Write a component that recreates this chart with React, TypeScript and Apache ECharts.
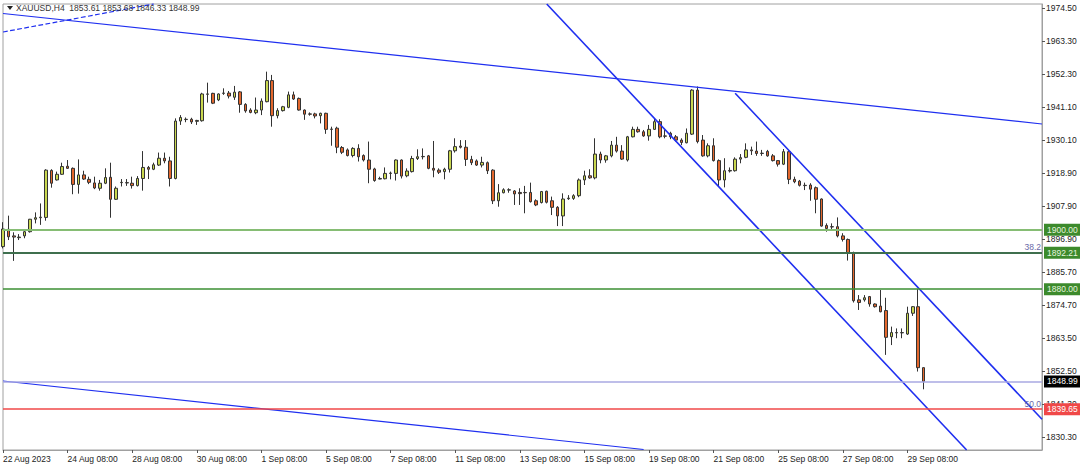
import React, { useEffect, useRef } from "react";
import * as echarts from "echarts";

// ---- data ----
const symbolTitle = "XAUUSD,H4";

// H4 candles: [open, close, low, high]
const ohlc: number[][] = [
  [1894.3, 1900.2, 1893.7, 1902.5], [1900.1, 1897.6, 1896.5, 1904.7], [1897.9, 1897.5, 1889.5, 1899.1],
  [1897.3, 1897.5, 1896.5, 1898.5], [1897.9, 1899.3, 1897.1, 1900.2], [1899.3, 1903.5, 1899.0, 1903.6],
  [1903.5, 1904.0, 1902.1, 1905.8], [1904.0, 1904.2, 1901.6, 1908.8], [1904.1, 1920.0, 1903.0, 1920.3],
  [1919.9, 1915.6, 1914.1, 1920.3], [1916.7, 1918.6, 1916.5, 1919.5], [1918.6, 1921.2, 1918.4, 1922.5],
  [1921.3, 1920.6, 1920.4, 1923.4], [1920.6, 1915.2, 1911.9, 1920.9], [1915.2, 1918.4, 1912.1, 1923.6],
  [1918.4, 1917.0, 1916.7, 1919.8], [1916.9, 1915.9, 1915.3, 1917.8], [1915.7, 1914.0, 1913.6, 1917.8],
  [1913.9, 1915.6, 1913.1, 1916.7], [1915.6, 1917.5, 1915.3, 1920.6], [1917.6, 1910.2, 1904.0, 1922.5],
  [1910.2, 1913.9, 1910.0, 1914.5], [1915.8, 1915.9, 1914.5, 1917.0], [1915.8, 1915.7, 1914.7, 1917.0],
  [1915.6, 1914.8, 1913.8, 1917.8], [1914.8, 1917.2, 1914.5, 1918.0], [1917.2, 1920.9, 1913.1, 1926.4],
  [1920.9, 1920.3, 1917.0, 1921.4], [1920.3, 1921.8, 1920.0, 1922.5], [1921.7, 1924.0, 1921.4, 1925.9],
  [1924.0, 1923.1, 1922.3, 1925.9], [1923.1, 1917.2, 1914.5, 1924.5], [1917.2, 1936.5, 1916.9, 1937.4],
  [1936.5, 1937.7, 1935.2, 1938.5], [1937.1, 1937.0, 1936.1, 1937.7], [1937.1, 1936.2, 1935.5, 1937.6],
  [1936.4, 1936.7, 1935.2, 1936.9], [1936.6, 1945.6, 1936.3, 1946.0], [1945.5, 1945.6, 1942.7, 1949.4],
  [1945.8, 1942.5, 1942.2, 1946.0], [1943.6, 1945.6, 1943.2, 1945.8], [1945.8, 1945.9, 1945.3, 1947.5],
  [1945.9, 1944.9, 1944.1, 1946.6], [1944.5, 1946.2, 1943.6, 1948.3], [1946.3, 1942.1, 1939.3, 1946.6],
  [1942.1, 1939.9, 1939.3, 1942.5], [1940.2, 1939.4, 1939.1, 1940.8], [1939.3, 1940.2, 1938.8, 1944.4],
  [1940.2, 1943.2, 1938.5, 1944.1], [1943.0, 1950.1, 1942.8, 1953.1], [1950.1, 1938.3, 1934.6, 1952.0],
  [1938.3, 1940.0, 1937.4, 1940.8], [1940.0, 1941.3, 1939.7, 1941.6], [1941.1, 1945.3, 1940.8, 1946.4],
  [1945.3, 1943.9, 1943.6, 1946.4], [1944.1, 1940.2, 1940.0, 1944.4], [1940.2, 1938.8, 1936.9, 1940.4],
  [1938.9, 1938.8, 1938.3, 1939.4], [1938.9, 1938.2, 1937.4, 1939.3], [1938.3, 1939.1, 1935.7, 1939.3],
  [1939.1, 1933.7, 1932.2, 1939.3], [1933.8, 1933.7, 1928.2, 1934.6], [1934.1, 1927.7, 1925.7, 1934.6],
  [1927.6, 1926.0, 1925.4, 1928.1], [1926.8, 1924.9, 1924.6, 1927.3], [1924.9, 1927.3, 1924.3, 1927.7],
  [1927.3, 1924.5, 1922.9, 1928.7], [1924.9, 1923.4, 1922.9, 1925.3], [1923.4, 1920.3, 1915.6, 1929.6],
  [1920.4, 1916.5, 1916.1, 1920.8], [1917.2, 1917.0, 1916.9, 1917.8], [1917.1, 1918.9, 1916.9, 1920.9],
  [1918.9, 1919.0, 1916.9, 1919.5], [1918.9, 1923.4, 1916.5, 1923.6], [1923.4, 1918.0, 1917.2, 1923.6],
  [1918.1, 1919.7, 1917.6, 1920.6], [1919.5, 1923.9, 1919.2, 1924.8], [1923.9, 1924.5, 1923.4, 1927.0],
  [1924.5, 1924.6, 1923.6, 1927.3], [1924.8, 1920.6, 1920.3, 1925.1], [1920.6, 1920.0, 1917.6, 1929.8],
  [1920.0, 1919.3, 1918.7, 1920.6], [1919.5, 1920.3, 1916.9, 1920.8], [1920.3, 1926.5, 1919.2, 1926.8],
  [1926.5, 1927.9, 1925.9, 1930.7], [1928.1, 1927.7, 1927.3, 1930.1], [1927.7, 1923.6, 1921.4, 1930.1],
  [1923.6, 1922.5, 1921.7, 1924.8], [1923.1, 1921.7, 1921.4, 1923.6], [1921.7, 1922.6, 1920.9, 1924.5],
  [1922.5, 1919.8, 1918.7, 1922.9], [1920.0, 1909.7, 1908.6, 1920.3], [1909.7, 1912.4, 1907.7, 1915.3],
  [1912.4, 1913.4, 1912.2, 1913.9], [1913.3, 1913.4, 1912.4, 1913.9], [1913.0, 1912.0, 1908.3, 1913.3],
  [1912.5, 1912.1, 1908.3, 1913.9], [1912.5, 1912.4, 1905.5, 1914.7], [1912.5, 1909.4, 1909.1, 1915.8],
  [1909.7, 1908.3, 1907.9, 1910.2], [1909.1, 1912.8, 1908.8, 1913.0], [1912.9, 1909.2, 1908.8, 1913.1],
  [1909.7, 1907.5, 1904.9, 1911.1], [1907.5, 1904.6, 1901.2, 1907.9], [1904.6, 1910.3, 1901.2, 1912.2],
  [1910.4, 1910.6, 1910.0, 1911.6], [1910.5, 1911.4, 1910.0, 1911.9], [1911.4, 1916.7, 1910.9, 1917.2],
  [1916.7, 1918.1, 1915.0, 1919.8], [1918.1, 1917.4, 1917.1, 1920.3], [1917.4, 1925.4, 1916.9, 1930.7],
  [1925.4, 1923.4, 1922.3, 1926.2], [1923.4, 1924.8, 1922.5, 1925.1], [1924.8, 1928.4, 1924.3, 1929.8],
  [1928.4, 1926.4, 1925.9, 1931.2], [1926.4, 1923.7, 1923.4, 1928.4], [1923.4, 1931.2, 1922.9, 1931.5],
  [1931.2, 1933.7, 1931.0, 1934.6], [1933.7, 1932.9, 1932.6, 1934.6], [1932.9, 1931.5, 1931.2, 1933.5],
  [1931.5, 1933.7, 1929.9, 1935.2], [1933.7, 1936.3, 1933.5, 1937.2], [1936.3, 1931.2, 1930.7, 1937.1],
  [1931.5, 1931.4, 1930.7, 1933.5], [1932.4, 1931.2, 1930.4, 1932.9], [1931.2, 1930.1, 1929.6, 1931.8],
  [1930.1, 1929.3, 1928.4, 1930.7], [1929.2, 1932.4, 1929.0, 1934.0], [1932.1, 1946.9, 1931.8, 1947.2],
  [1946.9, 1929.6, 1929.0, 1948.1], [1930.1, 1924.8, 1924.5, 1931.8], [1924.8, 1928.2, 1924.3, 1929.0],
  [1928.2, 1923.2, 1922.9, 1930.7], [1923.2, 1916.7, 1914.5, 1923.6], [1916.7, 1919.8, 1914.2, 1924.0],
  [1919.7, 1919.9, 1919.2, 1920.9], [1919.8, 1923.7, 1919.5, 1924.3], [1923.7, 1924.2, 1922.3, 1925.4],
  [1924.3, 1926.8, 1924.0, 1929.0], [1926.8, 1926.5, 1925.1, 1927.9], [1926.4, 1925.6, 1924.8, 1929.6],
  [1925.6, 1925.7, 1924.8, 1926.8], [1926.3, 1924.8, 1924.5, 1926.8], [1924.8, 1923.2, 1922.9, 1925.4],
  [1923.2, 1922.0, 1921.2, 1923.4], [1922.0, 1926.2, 1921.7, 1927.1], [1926.2, 1916.9, 1915.3, 1926.8],
  [1916.9, 1916.1, 1915.6, 1917.8], [1916.3, 1914.9, 1914.5, 1916.7], [1914.9, 1914.8, 1913.3, 1915.8],
  [1915.0, 1913.6, 1909.7, 1915.6], [1914.1, 1910.2, 1905.5, 1914.5], [1910.3, 1901.2, 1901.0, 1910.5],
  [1901.4, 1900.4, 1899.3, 1902.1], [1901.0, 1900.9, 1899.9, 1902.1], [1901.0, 1897.9, 1897.4, 1904.1],
  [1897.9, 1896.7, 1896.0, 1898.8], [1896.7, 1892.3, 1889.6, 1897.0], [1892.3, 1876.1, 1875.5, 1892.6],
  [1876.4, 1875.5, 1873.0, 1878.0], [1876.4, 1877.1, 1875.8, 1878.0], [1877.5, 1875.0, 1874.1, 1877.7],
  [1875.0, 1874.1, 1873.8, 1875.2], [1874.3, 1872.4, 1872.2, 1879.7], [1872.8, 1863.8, 1857.9, 1877.1],
  [1864.0, 1865.4, 1861.2, 1867.4], [1865.4, 1865.3, 1863.5, 1866.8], [1865.3, 1865.4, 1863.5, 1866.8],
  [1864.9, 1871.9, 1864.6, 1874.1], [1871.9, 1874.1, 1871.0, 1874.3], [1874.1, 1853.6, 1852.3, 1880.0],
  [1853.61, 1848.99, 1846.33, 1853.68],
];

// number of bar slots visible on the time axis (includes empty space on the right)
const slotCount = 194;
const xTickStep = 12;
const xTickLabels = [
  "22 Aug 2023", "24 Aug 08:00", "28 Aug 08:00", "30 Aug 08:00", "1 Sep 08:00",
  "5 Sep 08:00", "7 Sep 08:00", "11 Sep 08:00", "13 Sep 08:00", "15 Sep 08:00",
  "19 Sep 08:00", "21 Sep 08:00", "25 Sep 08:00", "27 Sep 08:00", "29 Sep 08:00",
];

const yMin = 1825.93;
const yMax = 1975.84;
const yTickValues = [
  1974.5, 1963.3, 1952.3, 1941.1, 1930.1, 1918.9, 1907.9,
  1896.9, 1885.7, 1874.7, 1863.5, 1852.5, 1841.3, 1830.3,
];

// horizontal levels
const level1900 = 1900.0;
const level1892 = 1892.21;
const level1880 = 1880.0;
const bidLevel = 1848.99;
const level1839 = 1839.65;
const fibLabels = ["38.2", "50.0"];

// trend lines in [barIndex, price]
const upperLongLine = [[0, 1972.65], [193, 1935.51]];
const upperDashedLine = [[0, 1966.43], [27.7, 1975.84]];
const lowerLongLine = [[0, 1849.13], [119.4, 1826.1]];
const channelLowerLine = [[101.4, 1975.84], [178.9, 1825.93]];
const channelUpperLine = [[136.2, 1945.83], [193, 1836.28]];

// ---- chart ----
const FONT = "Liberation Sans, Arial, sans-serif";

export default function App() {
  const ref = useRef<HTMLDivElement>(null);

  useEffect(() => {
    if (!ref.current) return;
    const chart = echarts.init(ref.current, undefined, { renderer: "svg" });
    const categories = Array.from({ length: slotCount }, (_, i) => String(i));
    const showTick = (i: number) => i % xTickStep === 0 && i / xTickStep < xTickLabels.length;
    const last = ohlc[ohlc.length - 1];

    const blue = "#1f2ff0";
    const trend = (pts: number[][], width: number, type: string = "solid", color: string = blue) => [
      { coord: pts[0], lineStyle: { color, width, type } },
      { coord: pts[1] },
    ];
    const hLevel = (value: number, color: string, width: number, box: string, text: string) => ({
      yAxis: value,
      lineStyle: { color, width, type: "solid" },
      label: {
        show: true,
        position: "end",
        distance: 2,
        formatter: value.toFixed(2),
        backgroundColor: box,
        color: text,
        padding: [2, 3, 1, 3],
        fontSize: 8.5,
        fontFamily: FONT,
      },
    });
    const fibTag = (value: number, text: string) => ({
      yAxis: value,
      lineStyle: { color: "rgba(0,0,0,0)", width: 1 },
      label: {
        show: true,
        position: "insideEndTop",
        distance: 1,
        formatter: text,
        color: "#6a6aa8",
        fontSize: 8.5,
        fontFamily: FONT,
      },
    });

    const option: any = {
      animation: false,
      backgroundColor: "#ffffff",
      grid: {
        left: 3,
        right: 38,
        top: 4,
        bottom: 20,
        show: true,
        borderColor: "#a0a0a0",
        borderWidth: 1,
        backgroundColor: "#ffffff",
      },
      xAxis: {
        type: "category",
        data: categories,
        boundaryGap: false,
        axisLine: { show: true, lineStyle: { color: "#a0a0a0", width: 1 } },
        axisTick: { show: true, interval: (i: number) => showTick(i), length: 3, lineStyle: { color: "#555" } },
        axisLabel: {
          interval: (i: number) => showTick(i),
          formatter: (_v: string, i: number) => xTickLabels[i / xTickStep] ?? "",
          align: "left",
          margin: 4,
          fontSize: 8.5,
          color: "#222",
          fontFamily: FONT,
        },
        splitLine: { show: false },
      },
      yAxis: {
        type: "value",
        position: "right",
        min: yMin,
        max: yMax,
        axisLine: { show: true, lineStyle: { color: "#a0a0a0", width: 1 } },
        axisTick: { show: true, customValues: yTickValues, length: 3, lineStyle: { color: "#555" } },
        axisLabel: {
          customValues: yTickValues,
          formatter: (v: number) => v.toFixed(2),
          margin: 4,
          fontSize: 8.5,
          color: "#222",
          fontFamily: FONT,
        },
        splitLine: { show: false },
      },
      series: [
        {
          type: "candlestick",
          data: ohlc,
          barWidth: 3,
          clip: true,
          itemStyle: {
            color: "#c9d74f",
            color0: "#e3672d",
            borderColor: "#333333",
            borderColor0: "#333333",
            borderWidth: 1,
          },
          markLine: {
            silent: true,
            symbol: ["none", "none"],
            animation: false,
            label: { show: false },
            data: [
              trend(upperLongLine, 1.2),
              trend(upperDashedLine, 1.2, "dashed"),
              trend(lowerLongLine, 1.2),
              trend(channelLowerLine, 1.6),
              trend(channelUpperLine, 1.6),
              hLevel(level1900, "#86bd74", 2, "#3c8a2c", "#e6f5df"),
              hLevel(level1892, "#3f6f4e", 2, "#3c8a2c", "#e6f5df"),
              hLevel(level1880, "#3b8f33", 1.5, "#3c8a2c", "#e6f5df"),
              hLevel(bidLevel, "#a9a9e2", 1.5, "#000000", "#ffffff"),
              hLevel(level1839, "#f04848", 1.5, "#f04848", "#ffffff"),
              fibTag(level1892, fibLabels[0]),
              fibTag(level1839, fibLabels[1]),
            ],
          },
        },
      ],
      graphic: [
        {
          type: "polygon",
          shape: { points: [[7, 6], [13, 6], [10, 10]] },
          style: { fill: "#222" },
          z: 100,
        },
        {
          type: "text",
          left: 16,
          top: 3,
          z: 100,
          style: {
            text: `${symbolTitle}  ${last[0].toFixed(2)} ${last[3].toFixed(2)} ${last[2].toFixed(2)} ${last[1].toFixed(2)}`,
            fontSize: 8.5,
            fill: "#333",
            fontFamily: FONT,
          },
        },
      ],
    };

    chart.setOption(option);
    return () => chart.dispose();
  }, []);

  return (
    <div
      ref={ref}
      style={{ position: "fixed", left: 0, top: 0, width: 1080, height: 470, background: "#fff" }}
    />
  );
}
